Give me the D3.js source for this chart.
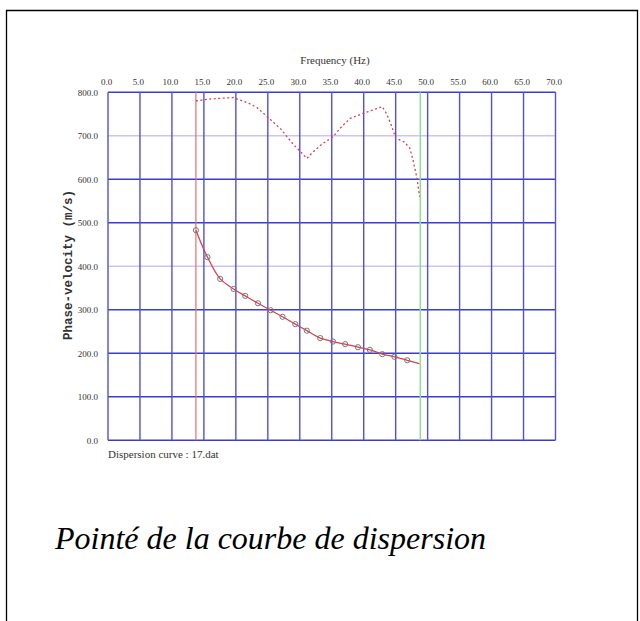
<!DOCTYPE html>
<html><head><meta charset="utf-8">
<script src="https://cdn.jsdelivr.net/npm/d3@7"></script>
<style>body{margin:0;background:#fff}svg{display:block}</style>
</head><body>
<svg id="c" width="640" height="621"></svg>
<script>
// ---- data ----
const freqTicks = [0,5,10,15,20,25,30,35,40,45,50,55,60,65,70];
const velTicks = [0,100,200,300,400,500,600,700,800];
const lightVel = [400,700];
// picked dispersion points
const pickFreq = [13.75,15.56,17.55,19.64,21.47,23.46,25.44,27.3,29.3,31.1,33.2,35.2,37.1,39.1,40.96,42.9,44.8,46.8];
const pickVel  = [483,421,371,348,332,315,299,284,267,252,235,227,221,214,208,198,192,184];
// fitted line (through picks, ending at green marker)
const fitFreq = [13.75,15.56,17.55,19.64,21.47,23.46,25.44,27.3,29.3,31.1,33.2,35.2,37.1,39.1,40.96,42.9,44.8,46.8,48.7];
const fitVel  = [483,421,371,348,332,315,299,284,267,252,235,227,221,214,208,198,192,184,176];
// upper dotted curve
const upFreq = [13.75,15.5,17.5,19.6,20.3,22,23.3,24.9,27,29,30.2,31.1,32,33.5,35.2,36.6,37.9,40,42.9,43.6,44.3,45,46.3,47.2,47.7,48.3,48.75];
const upVel  = [780,784,786,788,784,775,765,744,716,680,662,648,662,681,698,722,740,752,767,750,725,695,686,672,645,605,560];
const fMin = 13.75, fMax = 48.85;

// ---- drawing ----
const svg = d3.select("#c");
svg.append("path").attr("d","M6.5,700 V10.5 H637.5 V700").attr("fill","none").attr("stroke","#000").attr("stroke-width",1.3);

const x = d3.scaleLinear().domain([0,70]).range([108,555.5]);
const y = d3.scaleLinear().domain([0,800]).range([440.3,92.3]);

const g = svg.append("g");
// horizontal grid
g.selectAll(".hg").data(velTicks).join("line")
  .attr("x1",x(0)).attr("x2",x(70)).attr("y1",d=>y(d)).attr("y2",d=>y(d))
  .attr("stroke",d=>lightVel.includes(d)?"#cbc4f4":"#3c3ccf").attr("stroke-width",1.5);
// vertical grid
g.selectAll(".vg").data(freqTicks).join("line")
  .attr("x1",d=>x(d)).attr("x2",d=>x(d)).attr("y1",y(0)).attr("y2",y(800))
  .attr("stroke","#5050d8").attr("stroke-width",1.4);
// markers
g.append("line").attr("x1",x(fMin)).attr("x2",x(fMin)).attr("y1",y(0)).attr("y2",y(800))
  .attr("stroke","#e27070").attr("stroke-width",1.2);
g.append("line").attr("x1",x(fMax)).attr("x2",x(fMax)).attr("y1",y(0)).attr("y2",y(800))
  .attr("stroke","#8ee08e").attr("stroke-width",1.5);

// axes labels
const xAxis = d3.axisTop(x).tickValues(freqTicks).tickFormat(d3.format(".1f")).tickSize(0).tickPadding(0);
const ax = svg.append("g").attr("transform","translate(-2,85)").call(xAxis);
ax.select(".domain").remove();
ax.selectAll("text").attr("font-family","Liberation Serif").attr("font-size",9).attr("fill","#333").attr("dy",0);
const yAxis = d3.axisLeft(y).tickValues(velTicks).tickFormat(d3.format(".1f")).tickSize(0).tickPadding(0);
const ay = svg.append("g").attr("transform","translate(98,0)").call(yAxis);
ay.select(".domain").remove();
ay.selectAll("text").attr("font-family","Liberation Serif").attr("font-size",9).attr("fill","#333");

svg.append("text").attr("x",335).attr("y",64).attr("text-anchor","middle")
  .attr("font-family","Liberation Serif").attr("font-size",11).attr("fill","#333").text("Frequency (Hz)");
svg.append("text").attr("transform","translate(72,265) rotate(-90)").attr("text-anchor","middle")
  .attr("font-family","Liberation Mono").attr("font-size",12.5).attr("font-weight","bold").attr("fill","#333")
  .text("Phase-velocity (m/s)");
svg.append("text").attr("x",108).attr("y",458)
  .attr("font-family","Liberation Serif").attr("font-size",11).attr("fill","#333").text("Dispersion curve : 17.dat");

// upper dotted curve
const up = upFreq.map((f,i)=>[f,upVel[i]]);
svg.append("path").datum(up)
  .attr("d",d3.line().x(d=>x(d[0])).y(d=>y(d[1])))
  .attr("fill","none").attr("stroke","#d84050").attr("stroke-width",1.3).attr("stroke-dasharray","2,2.5");

// fitted line
const fit = fitFreq.map((f,i)=>[f,fitVel[i]]);
svg.append("path").datum(fit)
  .attr("d",d3.line().curve(d3.curveCatmullRom).x(d=>x(d[0])).y(d=>y(d[1])))
  .attr("fill","none").attr("stroke","#d84050").attr("stroke-width",1.3);

// picks
svg.selectAll(".pk").data(pickFreq.map((f,i)=>[f,pickVel[i]])).join("circle")
  .attr("cx",d=>x(d[0])).attr("cy",d=>y(d[1])).attr("r",2.6)
  .attr("fill","none").attr("stroke","#777").attr("stroke-width",1);

// caption
svg.append("text").attr("x",55).attr("y",549)
  .attr("font-family","Liberation Serif").attr("font-style","italic").attr("font-size",32).attr("fill","#000")
  .text("Pointé de la courbe de dispersion");
</script>
</body></html>
